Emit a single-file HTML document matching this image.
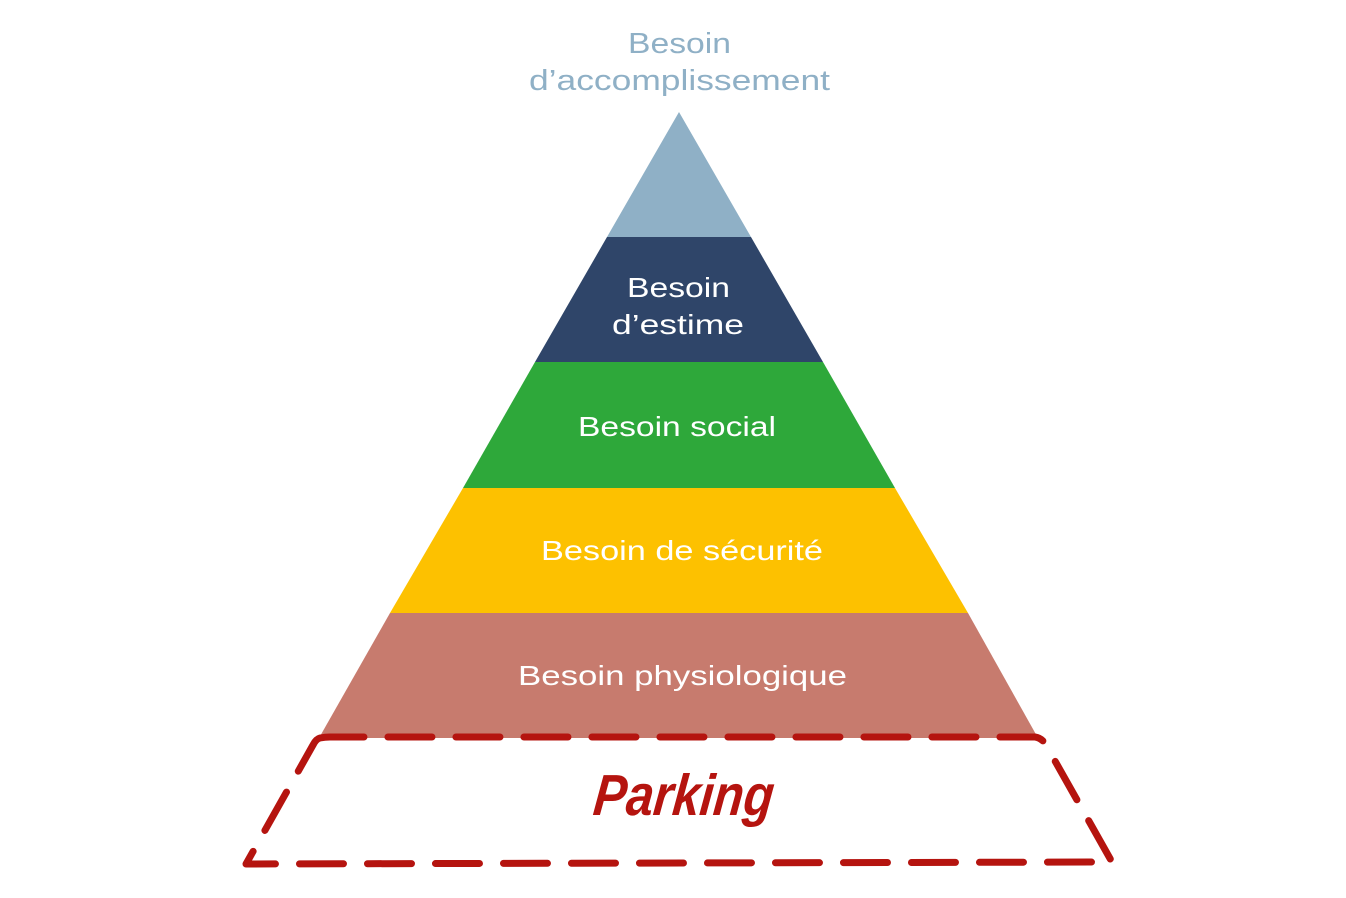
<!DOCTYPE html>
<html><head><meta charset="utf-8"><style>
html,body{margin:0;padding:0;background:#fff;}
svg{display:block;}
text{font-family:"Liberation Sans",sans-serif;}
</style></head><body>
<svg width="1346" height="898" viewBox="0 0 1346 898" xmlns="http://www.w3.org/2000/svg">
<rect width="1346" height="898" fill="#fff"/>
<text x="628" y="53" font-size="29" fill="#8fb0c6" textLength="103" lengthAdjust="spacingAndGlyphs">Besoin</text>
<text x="529" y="90" font-size="29" fill="#8fb0c6" textLength="301" lengthAdjust="spacingAndGlyphs">d’accomplissement</text>
<polygon points="679,112 751,237 607,237" fill="#8fb0c6"/>
<polygon points="607,237 751,237 823,362 535,362" fill="#2f4569"/>
<polygon points="535,362 823,362 895,488 463,488" fill="#2ea83a"/>
<polygon points="463,488 895,488 968,613 390,613" fill="#fdc100"/>
<polygon points="390,613 968,613 1038,738 319,738" fill="#c77b6e"/>
<g fill="#fff" font-size="28">
<text x="627" y="297" textLength="103" lengthAdjust="spacingAndGlyphs">Besoin</text>
<text x="612" y="334" textLength="132" lengthAdjust="spacingAndGlyphs">d’estime</text>
<text x="578" y="436" textLength="198" lengthAdjust="spacingAndGlyphs">Besoin social</text>
<text x="541" y="560" textLength="282" lengthAdjust="spacingAndGlyphs">Besoin de sécurité</text>
<text x="518" y="685" textLength="329" lengthAdjust="spacingAndGlyphs">Besoin physiologique</text>
</g>
<path d="M320,738 Q325,737 330,737 L1035,737 Q1042,738 1046,745 L1112,862 L246,864 L313,745 Q316,739 320,738 Z" fill="none" stroke="#b5140f" stroke-width="7" stroke-dasharray="44,24" stroke-linecap="round" stroke-linejoin="round"/>
<text x="0" y="0" font-size="58" font-style="italic" font-weight="bold" fill="#b5140f" transform="translate(592,815) skewX(-6)" textLength="180" lengthAdjust="spacingAndGlyphs">Parking</text>
</svg>
</body></html>
